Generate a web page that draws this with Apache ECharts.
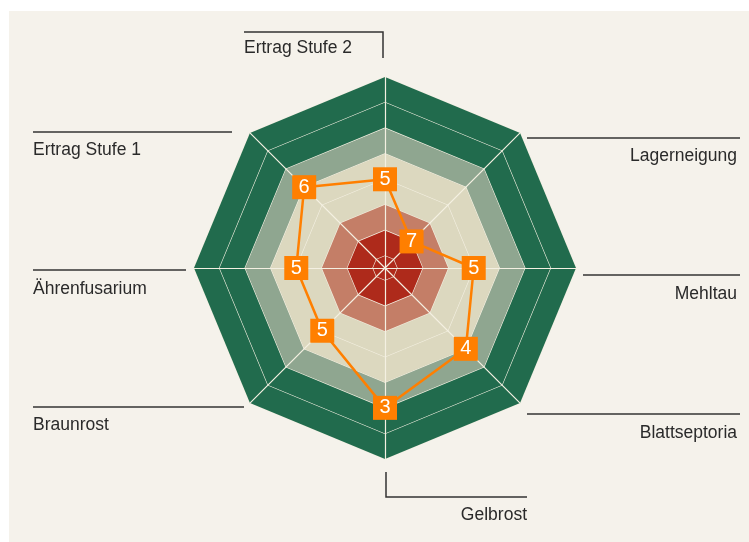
<!DOCTYPE html>
<html><head><meta charset="utf-8">
<script src="https://cdn.jsdelivr.net/npm/echarts@6/dist/echarts.min.js"></script>
<style>html,body{margin:0;padding:0;background:#fff}#c{width:749px;height:542px}</style>
</head><body><div id="c"></div>
<script>
// Indicators in ECharts order (top, then counter-clockwise)
const indicators = ['Ertrag Stufe 2','Ertrag Stufe 1','Ährenfusarium','Braunrost','Gelbrost','Blattseptoria','Mehltau','Lagerneigung'];
// yield: higher is better (outward); diseases: lower is better (so plotted inverted)
const higherIsBetter = [true,true,false,false,false,false,false,false];
const ratings = [5,6,5,5,3,4,5,7];
// background rings (in plotted scale)
const ringLevels = [9,8,7,6,5,4,3,2];
const ringColors = ['#216b4d','#216b4d','#8fa690','#dcd8bf','#dcd8bf','#c47e67','#ae2a1b','#ae2a1b'];
const scaleMin = 1.53, scaleMax = 9;

const plotted = ratings.map((v,i)=> higherIsBetter[i] ? v : 10 - v);

const chart = echarts.init(document.getElementById('c'), null, {renderer:'canvas'});
const FONT = '17.5px "Liberation Sans", Arial, sans-serif';
const LC = '#333333';
const RING_LINE = '#f4f0e2';
function txt(x,y,t,align){return {type:'text', style:{x:x,y:y,text:t,fill:'#2a2a2a',font:FONT,align:align,verticalAlign:'middle'}};}
function pl(pts){return {type:'polyline', shape:{points:pts}, style:{stroke:LC,lineWidth:1.5,fill:null}};}

chart.setOption({
  backgroundColor:'#ffffff',
  animation:false,
  radar:{
    center:[385,268], radius:191, startAngle:90, shape:'polygon', splitNumber:1,
    indicator: indicators.map(n=>({name:n,min:scaleMin,max:scaleMax})),
    axisName:{show:false}, name:{show:false},
    splitLine:{show:false}, splitArea:{show:false},
    axisLine:{show:true, lineStyle:{color:RING_LINE, width:1.2}},
    axisTick:{show:false}, axisLabel:{show:false},
    z:3
  },
  graphic:{elements:[
    {type:'rect', shape:{x:9,y:11,width:740,height:531}, style:{fill:'#f5f2eb'}},
    pl([[244,32],[383,32],[383,58]]), txt(244,48,'Ertrag Stufe 2','left'),
    pl([[527,138],[740,138]]), txt(737,156,'Lagerneigung','right'),
    pl([[583,275],[740,275]]), txt(737,294,'Mehltau','right'),
    pl([[527,414],[740,414]]), txt(737,433,'Blattseptoria','right'),
    pl([[386,472],[386,497],[527,497]]), txt(527,515,'Gelbrost','right'),
    pl([[33,407],[244,407]]), txt(33,425,'Braunrost','left'),
    pl([[33,270],[186,270]]), txt(33,289,'Ährenfusarium','left'),
    pl([[33,132],[232,132]]), txt(33,150,'Ertrag Stufe 1','left')
  ]},
  series:[
    {type:'radar', z:1, silent:true, symbol:'none',
     emphasis:{disabled:true},
     data: ringLevels.map((lv,i)=>({value: indicators.map(()=>lv),
        areaStyle:{color:ringColors[i], opacity:1},
        lineStyle:{color:RING_LINE, width:1.2}}))
    },
    {type:'radar', z:4, silent:true, symbol:'rect', symbolSize:24,
     emphasis:{disabled:true},
     itemStyle:{color:'#ff7f00'},
     lineStyle:{color:'#ff7f00', width:2.5},
     label:{show:true, position:'inside', color:'#fff', fontSize:20, fontFamily:'"Liberation Sans", Arial, sans-serif',
       formatter:p=>String(ratings[p.dimensionIndex])},
     data:[{value:plotted}]
    }
  ]
});
</script></body></html>
